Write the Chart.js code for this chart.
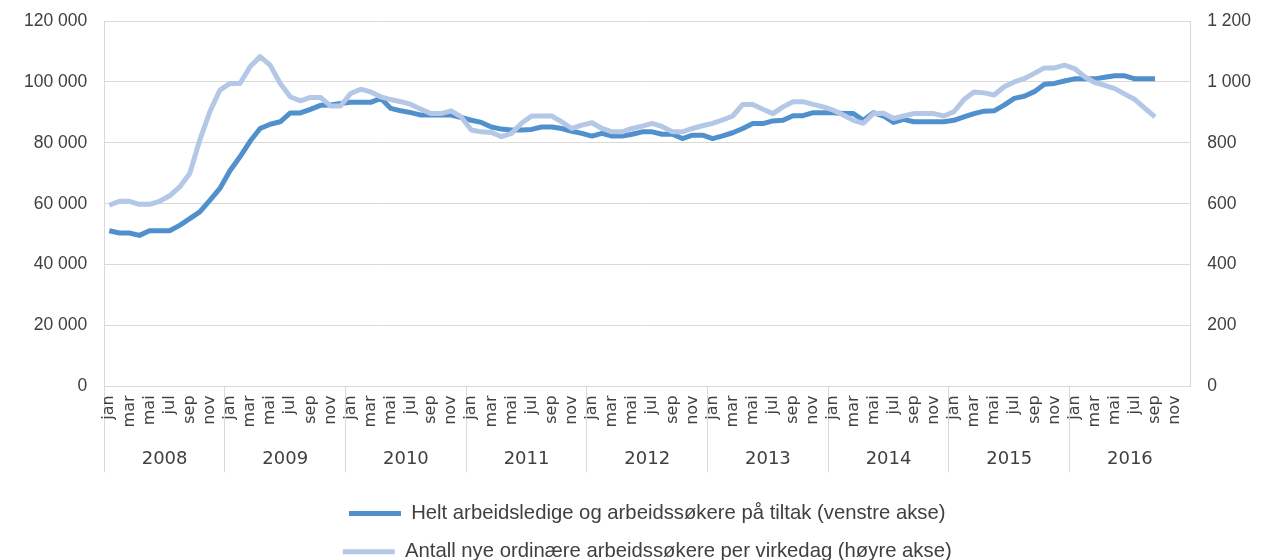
<!DOCTYPE html>
<html>
<head>
<meta charset="utf-8">
<script src="https://cdn.jsdelivr.net/npm/chart.js@4.4.1/dist/chart.umd.min.js"></script>
<style>
  html, body { margin: 0; padding: 0; background: #ffffff; }
  canvas { display: block; }
</style>
</head>
<body>
<canvas id="c" width="1262" height="560"></canvas>
<script>
// ---- data ----
const months = ['jan','feb','mar','apr','mai','jun','jul','aug','sep','okt','nov','des'];
const years = ['2008','2009','2010','2011','2012','2013','2014','2015','2016'];

const seriesNames = [
  'Helt arbeidsledige og arbeidssøkere på tiltak (venstre akse)',
  'Antall nye ordinære arbeidssøkere per virkedag (høyre akse)'
];

// Helt arbeidsledige og arbeidssøkere på tiltak (left axis), jan 2008 - sep 2016
const heltLedige = [
  51100, 50400, 50400, 49600, 51100, 51100, 51100, 52900, 55100, 57300, 61100, 65000,
  70800, 75400, 80500, 84700, 86100, 86900, 89800, 89800, 91000, 92300, 92400, 92900,
  93300, 93300, 93300, 94600, 91300, 90500, 89900, 89100, 89100, 89100, 89100, 88300,
  87400, 86700, 85200, 84500, 84200, 84200, 84400, 85200, 85200, 84700, 83800, 83100,
  82200, 83100, 82200, 82200, 82800, 83600, 83600, 82800, 82800, 81400, 82500, 82500,
  81400, 82300, 83300, 84700, 86300, 86300, 87200, 87400, 88900, 88900, 89900, 89900,
  89900, 89600, 89600, 87400, 89900, 88800, 86700, 87700, 86900, 86900, 86900, 86900,
  87400, 88500, 89600, 90400, 90500, 92400, 94600, 95300, 96800, 99200, 99500, 100300,
  101000, 101000, 101000, 101500, 102000, 102000, 101000, 101000, 101000
];

// Antall nye ordinære arbeidssøkere per virkedag (right axis), jan 2008 - sep 2016
const nyePerDag = [
  595, 608, 608, 598, 598, 608, 626, 655, 699, 809, 902, 973,
  995, 995, 1050, 1083, 1055, 995, 951, 938, 949, 949, 921, 921,
  962, 976, 967, 951, 942, 935, 926, 910, 896, 896, 905, 885,
  842, 836, 834, 820, 831, 864, 888, 888, 888, 869, 847, 858,
  866, 847, 836, 836, 847, 855, 864, 853, 836, 836, 847, 856,
  864, 875, 888, 926, 926, 910, 896, 918, 935, 935, 926, 918,
  907, 891, 874, 864, 896, 897, 880, 888, 896, 896, 896, 888,
  902, 942, 967, 964, 957, 984, 1000, 1011, 1028, 1046, 1046, 1055,
  1044, 1017, 998, 989, 978, 960, 942, 913, 885
];

const leftTicks = { min: 0, max: 120000, step: 20000 };
const rightTicks = { min: 0, max: 1200, step: 200 };

// ---- build ----
const labels = [];
years.forEach(y => months.forEach(m => labels.push(m)));

const fmt = v => String(v).replace(/\B(?=(\d{3})+(?!\d))/g, ' ');
const gridColor = '#d9d9d9';
const textColor = '#404040';
// unlabeled months get blank text that reserves room for the year separators
const blankLabel = ' '.repeat(23);
// keep the value axes from pushing the plot top down
const trimTop = s => { s.paddingTop = 10; };

new Chart(document.getElementById('c'), {
  type: 'line',
  data: {
    labels: labels,
    datasets: [
      {
        label: seriesNames[0],
        data: heltLedige,
        yAxisID: 'y',
        xAxisID: 'x',
        borderColor: '#4f90cd',
        backgroundColor: '#4f90cd',
        borderWidth: 5,
        pointRadius: 0,
        tension: 0,
        borderJoinStyle: 'round',
        order: 1
      },
      {
        label: seriesNames[1],
        data: nyePerDag,
        yAxisID: 'y1',
        xAxisID: 'x',
        borderColor: '#b4c7e7',
        backgroundColor: '#b4c7e7',
        borderWidth: 5,
        pointRadius: 0,
        tension: 0,
        borderJoinStyle: 'round',
        order: 0
      }
    ]
  },
  options: {
    responsive: false,
    animation: false,
    devicePixelRatio: 1,
    layout: { padding: { top: 21, left: 7, right: -6, bottom: -12 } },
    plugins: {
      tooltip: { enabled: false },
      legend: {
        position: 'bottom',
        fullSize: false,
        title: { display: true, text: ' ', font: { size: 1 }, padding: { top: 0.8, bottom: 0 } },
        labels: {
          usePointStyle: true,
          pointStyle: 'line',
          pointStyleWidth: 52,
          padding: 18,
          color: textColor,
          font: { family: 'Liberation Sans', size: 20.3 },
          sort: (a, b) => a.datasetIndex - b.datasetIndex
        }
      }
    },
    scales: {
      x: {
        type: 'category',
        position: 'bottom',
        weight: 1,
        offset: true,
        grid: {
          display: true,
          drawOnChartArea: false,
          drawTicks: true,
          tickLength: 86,
          offset: true,
          color: ctx => (ctx.index % 12 === 0 ? gridColor : 'rgba(0,0,0,0)')
        },
        border: { display: true, color: gridColor },
        ticks: {
          autoSkip: false,
          minRotation: 90,
          maxRotation: 90,
          padding: -77,
          color: textColor,
          font: { family: 'DejaVu Sans', size: 16 },
          callback: (v, i) => (i % 2 === 0 ? labels[i] : blankLabel)
        }
      },
      x2: {
        type: 'category',
        labels: years,
        position: 'bottom',
        weight: 2,
        offset: true,
        grid: { display: false, drawOnChartArea: false, drawTicks: false },
        border: { display: false },
        ticks: {
          padding: 13.2,
          color: textColor,
          font: { family: 'DejaVu Sans', size: 18 }
        }
      },
      y: {
        position: 'left',
        min: leftTicks.min,
        max: leftTicks.max,
        afterFit: trimTop,
        grid: { color: gridColor, drawTicks: false },
        border: { display: true, color: gridColor },
        ticks: {
          stepSize: leftTicks.step,
          padding: 17,
          color: textColor,
          font: { family: 'Liberation Sans', size: 17.5 },
          callback: v => fmt(v)
        }
      },
      y1: {
        position: 'right',
        min: rightTicks.min,
        max: rightTicks.max,
        afterFit: trimTop,
        grid: { drawOnChartArea: false, drawTicks: false },
        border: { display: true, color: gridColor },
        ticks: {
          stepSize: rightTicks.step,
          padding: 17,
          color: textColor,
          font: { family: 'Liberation Sans', size: 17.5 },
          callback: v => fmt(v)
        }
      }
    }
  }
});
</script>
</body>
</html>
